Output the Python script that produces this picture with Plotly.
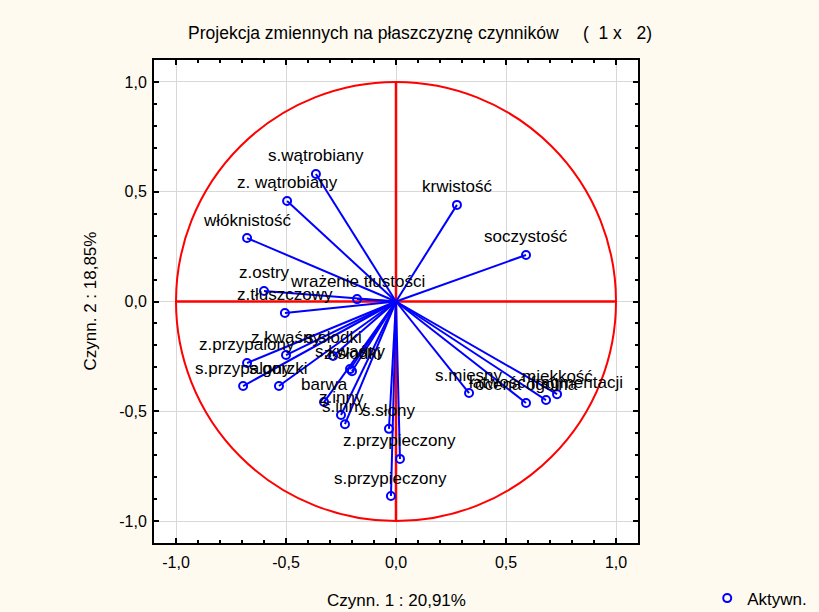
import plotly.graph_objects as go

# Variable names (labels) and factor loadings
names = [
    "s.wątrobiany", "z. wątrobiany", "włóknistość", "krwistość", "soczystość",
    "z.ostry", "wrażenie tłustości", "z.tłuszczowy", "z.kwaśny", "s.słodki",
    "s.kwaśny", "z.słodki", "z.przypalony", "s.przypalony", "s.gorzki",
    "barwa", "z.inny", "s.inny", "s.słony", "z.przypieczony",
    "s.przypieczony", "s.mięsny", "ocena ogólna", "łatwość fragmentacji", "miękkość",
]
factor1 = [
    -0.364, -0.495, -0.677, 0.277, 0.591,
    -0.600, -0.177, -0.505, -0.500, -0.286,
    -0.209, -0.200, -0.677, -0.695, -0.532,
    -0.327, -0.250, -0.232, -0.032, 0.018,
    -0.023, 0.332, 0.591, 0.682, 0.732,
]
factor2 = [
    0.581, 0.458, 0.289, 0.440, 0.212,
    0.048, 0.011, -0.052, -0.244, -0.248,
    -0.308, -0.318, -0.280, -0.385, -0.385,
    -0.458, -0.517, -0.559, -0.580, -0.717,
    -0.886, -0.417, -0.462, -0.449, -0.422,
]

tick_vals = [-1.0, -0.5, 0.0, 0.5, 1.0]
tick_text = ["-1,0", "-0,5", "0,0", "0,5", "1,0"]

BLUE = "#0000FF"
RED = "#FF0000"
FONT = "Liberation Sans, Arial, sans-serif"
FS = 17

# lines from origin to each loading point
lx, ly = [], []
for a, b in zip(factor1, factor2):
    lx += [0, a, None]
    ly += [0, b, None]

fig = go.Figure()
fig.add_trace(go.Scatter(x=lx, y=ly, mode="lines",
                         line=dict(color=BLUE, width=2),
                         hoverinfo="skip", showlegend=False))
fig.add_trace(go.Scatter(x=factor1, y=factor2, mode="markers", name="Aktywn.",
                         text=names,
                         marker=dict(symbol="circle-open", size=8,
                                     color=BLUE, line=dict(color=BLUE, width=2)),
                         showlegend=True))

# unit circle and axes cross
fig.add_shape(type="circle", xref="x", yref="y", x0=-1, y0=-1, x1=1, y1=1,
              line=dict(color=RED, width=2), layer="between")
fig.add_shape(type="line", xref="x", yref="y", x0=-1, y0=0, x1=1, y1=0,
              line=dict(color=RED, width=2.5), layer="between")
fig.add_shape(type="line", xref="x", yref="y", x0=0, y0=-1, x1=0, y1=1,
              line=dict(color=RED, width=2.5), layer="between")

for n, a, b in zip(names, factor1, factor2):
    fig.add_annotation(x=a, y=b, text=n, showarrow=False, yshift=18,
                       font=dict(family=FONT, size=FS, color="black"))

axis_common = dict(
    range=[-1.1, 1.1], tickvals=tick_vals, ticktext=tick_text,
    showgrid=True, gridcolor="#D8D8D8", gridwidth=1, zeroline=False,
    showline=True, linecolor="black", linewidth=2, mirror="ticks",
    ticks="inside", ticklen=5, tickwidth=2, tickcolor="black",
    minor=dict(dtick=0.1, tick0=0, ticks="inside", ticklen=3, tickwidth=1.5,
               tickcolor="black", showgrid=False),
    tickfont=dict(family=FONT, size=16, color="black"),
    automargin=False,
)

fig.update_xaxes(**axis_common, ticklabelstandoff=4)
fig.update_yaxes(**axis_common, ticklabelstandoff=2)

# axis titles
fig.add_annotation(xref="paper", yref="paper", x=0.5, y=0, yshift=-57,
                   xanchor="center", yanchor="middle", showarrow=False,
                   text="Czynn. 1 : 20,91%",
                   font=dict(family=FONT, size=FS, color="black"))
fig.add_annotation(xref="paper", yref="paper", x=0, y=0.5, xshift=-64,
                   xanchor="center", yanchor="middle", showarrow=False,
                   textangle=-90, text="Czynn. 2 : 18,85%",
                   font=dict(family=FONT, size=FS, color="black"))

fig.update_layout(
    width=819, height=612,
    margin=dict(l=154, r=181, t=60, b=69, autoexpand=False),
    paper_bgcolor="#FEFAF0",
    plot_bgcolor="white",
    separators=", ",
    title=dict(text="Projekcja zmiennych na płaszczyznę czynników     (  1 x   2)",
               x=420 / 819, xanchor="center", y=1 - 33 / 612, yanchor="middle",
               font=dict(family=FONT, size=17.5, color="black")),
    legend=dict(x=1.143, y=-0.115, xanchor="left", yanchor="middle",
                bgcolor="rgba(0,0,0,0)",
                font=dict(family=FONT, size=FS, color="black")),
    showlegend=True,
)

fig.write_html("out.html")
